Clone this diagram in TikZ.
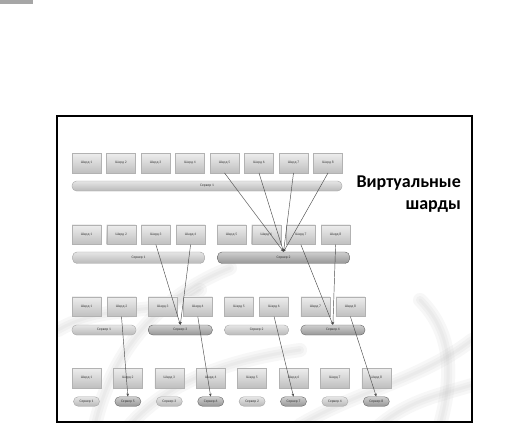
\documentclass[tikz,border=0pt]{standalone}
\usepackage{fontspec}
\setmainfont{Carlito}
\usetikzlibrary{calc,shadows,arrows.meta}

\begin{document}
\begin{tikzpicture}[
    x=1pt,y=-1pt,
    shard/.style={draw=gray!60,top color=gray!14,bottom color=gray!50,minimum width=29pt,minimum height=19.5pt,inner sep=0pt,
      font=\fontsize{3.6}{4}\selectfont,text=black!75,drop shadow={opacity=0.25,shadow xshift=0.7pt,shadow yshift=-0.7pt}},
    server/.style={draw=gray!70,rounded corners=4.5pt,top color=gray!20,bottom color=gray!55,minimum height=10pt,inner sep=0pt,
      font=\fontsize{3.6}{4}\selectfont,text=black!80},
    newserver/.style={server,draw=black!60,top color=gray!38,bottom color=gray!82},
    pill/.style={minimum width=26pt,minimum height=9.5pt,rounded corners=4.7pt},
    shardline/.style={draw=black!70,line width=0.45pt,-{Stealth[length=3pt,width=2.6pt]}},
    smoke/.style={draw=gray!50,line cap=round,opacity=0.12},
  ]

  \useasboundingbox (0,0) rectangle (532,424);
  \fill[gray!70] (0,0) rectangle (33,3.5);

  % slide background
  \fill[white] (57,116) rectangle (472,422);
  \begin{scope}
    \clip (57,116) rectangle (472,422);
    \foreach \w in {14,8,3} {
      \draw[smoke,line width=\w pt] (95,425) .. controls (110,360) and (150,300) .. (230,268);
      \draw[smoke,line width=\w pt] (58,330) .. controls (110,300) and (160,320) .. (200,290);
      \draw[smoke,line width=\w pt] (130,425) .. controls (170,380) and (230,360) .. (300,350);
      \draw[smoke,line width=\w pt] (300,425) .. controls (360,390) and (420,380) .. (472,340);
      \draw[smoke,line width=\w pt] (380,425) .. controls (410,400) and (440,395) .. (472,385);
      \draw[smoke,line width=\w pt] (420,300) .. controls (450,330) and (455,370) .. (440,425);
    }
  \end{scope}
  \draw[black,line width=1.3pt] (57,116) rectangle (472,422);

  \node (title) at (461,175.5) [anchor=north east,align=right,inner sep=0pt,
    font=\bfseries\fontsize{18}{22}\selectfont] {Виртуальные\\шарды};

  % row 1: one server
  \foreach \i in {1,...,8}
    \node (a\i) at ({86.5+34.5*(\i-1)},163) [shard] {Шард \i};
  \node (sa1) at (207,186) [server,minimum width=270pt] {Сервер 1};

  % row 2: two servers
  \foreach \i in {1,...,4}
    \node (b\i) at ({86.5+34.7*(\i-1)},234.7) [shard] {Шард \i};
  \foreach \i in {5,...,8}
    \node (b\i) at ({231.5+34.7*(\i-5)},234.7) [shard] {Шард \i};
  \node (sb1) at ($(b1)!0.5!(b4) + (0,23)$) [server,minimum width=132pt,minimum height=11.5pt] {Сервер 1};
  \node (sb2) at ($(b5)!0.5!(b8) + (0,23)$) [newserver,minimum width=132pt,minimum height=11.5pt] {Сервер 2};

  % row 3: four servers
  \foreach \p in {0,...,3} {
    \pgfmathtruncatemacro{\ia}{2*\p+1}
    \pgfmathtruncatemacro{\ib}{2*\p+2}
    \node (c\ia) at ({86.5+76.3*\p},306.7) [shard] {Шард \ia};
    \node (c\ib) at ({121.5+76.3*\p},306.7) [shard] {Шард \ib};
  }
  \node (sc1) at ($(c1)!0.5!(c2) + (0,23.3)$) [server,minimum width=64pt] {Сервер 1};
  \node (sc2) at ($(c3)!0.5!(c4) + (0,23.3)$) [newserver,minimum width=64pt] {Сервер 3};
  \node (sc3) at ($(c5)!0.5!(c6) + (0,23.3)$) [server,minimum width=64pt] {Сервер 2};
  \node (sc4) at ($(c7)!0.5!(c8) + (0,23.3)$) [newserver,minimum width=64pt] {Сервер 4};

  % row 4: eight servers
  \foreach \i in {1,...,8}
    \node (d\i) at ({86.5+41.4*(\i-1)},378) [shard] {Шард \i};
  \foreach \i/\s in {1/1,3/3,5/2,7/4}
    \node (sd\i) at ($(d\i) + (0,23.5)$) [server,pill] {Сервер \s};
  \foreach \i/\s in {2/5,4/6,6/7,8/8}
    \node (sd\i) at ($(d\i) + (0,23.5)$) [newserver,pill] {Сервер \s};

  % moved shards
  \foreach \i in {5,...,8}
    \draw[shardline] (a\i.south) -- (sb2.north);
  \foreach \i in {3,4}
    \draw[shardline] (b\i.south) -- (sc2.north);
  \foreach \i in {7,8}
    \draw[shardline] (b\i.south) -- (sc4.north);
  \foreach \i in {2,4,6,8}
    \draw[shardline] (c\i.south) -- (sd\i.north);

\end{tikzpicture}
\end{document}
